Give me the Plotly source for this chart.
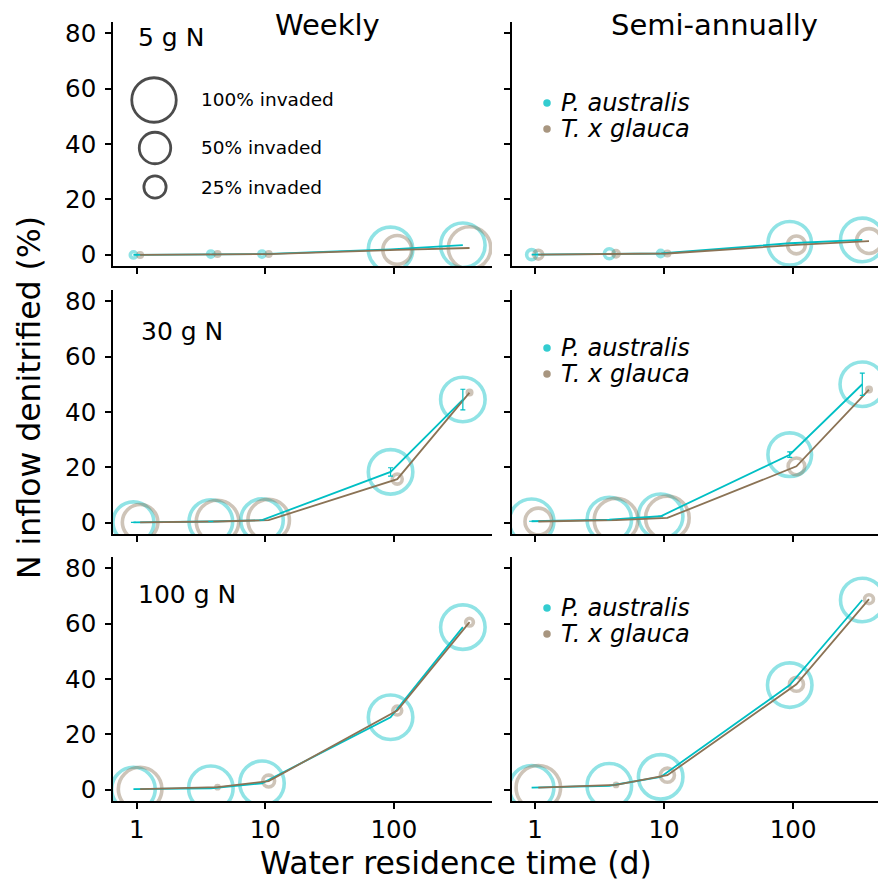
import plotly.graph_objects as go
import numpy as np

W, H = 886, 887
OFF = 8  # page body margin of the browser; figure is shrunk and shifted to compensate
FW, FH = W - OFF, H - OFF

# ---------------- data ----------------
residence_days = [1, 4, 10, 100, 365]
x_tick_vals = [1, 10, 100]
x_tick_labels = ["1", "10", "100"]
y_tick_vals = [0, 20, 40, 60, 80]
y_tick_labels = ["0", "20", "40", "60", "80"]

loads = ["5 g N", "30 g N", "100 g N"]
regimes = ["Weekly", "Semi-annually"]
species = ["P. australis", "T. x glauca"]

# mean % of N inflow denitrified
pa_weekly_5 = [0.0, 0.3, 0.3, 2.0, 3.5]
tg_weekly_5 = [0.0, 0.3, 0.3, 1.8, 2.5]
pa_semi_5 = [0.1, 0.4, 0.5, 4.2, 5.4]
tg_semi_5 = [0.1, 0.4, 0.5, 3.6, 5.0]
pa_weekly_30 = [0.2, 0.5, 1.0, 18.4, 44.5]
tg_weekly_30 = [0.2, 0.5, 1.0, 15.8, 47.0]
pa_semi_30 = [0.6, 1.2, 2.4, 24.6, 50.0]
tg_semi_30 = [0.5, 1.0, 1.8, 20.4, 48.1]
pa_weekly_100 = [0.3, 0.6, 2.4, 26.2, 58.7]
tg_weekly_100 = [0.3, 1.0, 3.2, 28.6, 60.5]
pa_semi_100 = [0.8, 1.5, 4.7, 37.8, 68.5]
tg_semi_100 = [0.8, 1.8, 5.3, 38.1, 68.8]

# standard errors (only visible ones are non-zero)
pa_err_weekly_30 = [0, 0, 0, 1.5, 3.7]
pa_err_semi_30 = [0, 0, 0, 1.0, 4.0]

# % of mesocosms invaded (circle size)
pa_inv_weekly_5 = [2, 2, 2, 100, 100]
tg_inv_weekly_5 = [1, 1, 1, 42, 91]
pa_inv_semi_5 = [5, 5, 2, 96, 96]
tg_inv_semi_5 = [4, 2, 1, 16, 31]
pa_inv_weekly_30 = [85, 96, 91, 100, 100]
tg_inv_weekly_30 = [64, 91, 87, 5, 1]
pa_inv_semi_30 = [100, 100, 100, 96, 100]
tg_inv_semi_30 = [36, 96, 96, 14, 1]
pa_inv_weekly_100 = [96, 100, 100, 100, 100]
tg_inv_weekly_100 = [96, 0.5, 7, 4, 3]
pa_inv_semi_100 = [100, 100, 100, 100, 96]
tg_inv_semi_100 = [100, 0.5, 10, 10, 4]

legend_invaded = [100, 50, 25]
legend_invaded_labels = ["100% invaded", "50% invaded", "25% invaded"]

# ---------------- style ----------------
CYAN = "#00BFC4"
BROWN = "#8B7355"
CYAN_A = "rgba(0,191,196,0.62)"
BROWN_A = "rgba(139,115,85,0.6)"
FONT = "DejaVu Sans"
SIZE_MAX = 44.5
DODGE = 10 ** 0.026


def msize(p):
    return [SIZE_MAX * np.sqrt(v / 100.0) for v in p]


def px(x):
    return (x - OFF) / FW


def py(y):
    return 1 - (y - OFF) / FH


panels = [
    # row, col, pa, tg, pa_inv, tg_inv, pa_err
    (0, 0, pa_weekly_5, tg_weekly_5, pa_inv_weekly_5, tg_inv_weekly_5, None),
    (0, 1, pa_semi_5, tg_semi_5, pa_inv_semi_5, tg_inv_semi_5, None),
    (1, 0, pa_weekly_30, tg_weekly_30, pa_inv_weekly_30, tg_inv_weekly_30, pa_err_weekly_30),
    (1, 1, pa_semi_30, tg_semi_30, pa_inv_semi_30, tg_inv_semi_30, pa_err_semi_30),
    (2, 0, pa_weekly_100, tg_weekly_100, pa_inv_weekly_100, tg_inv_weekly_100, None),
    (2, 1, pa_semi_100, tg_semi_100, pa_inv_semi_100, tg_inv_semi_100, None),
]

x_dom = [[px(113), px(492)], [px(512), 1.0]]
x_rng = [[-0.185, 2.763], [-0.178, 2.72]]
y_dom = [[py(266), py(22)], [py(534), py(290)], [py(801), py(557)]]

fig = go.Figure()
layout = {}

x_pa = [x / DODGE for x in residence_days]
x_tg = [x * DODGE for x in residence_days]

for i, (r, c, pa, tg, pa_inv, tg_inv, pa_err) in enumerate(panels):
    n = i + 1
    xa = "x" if n == 1 else f"x{n}"
    ya = "y" if n == 1 else f"y{n}"
    xk = "xaxis" if n == 1 else f"xaxis{n}"
    yk = "yaxis" if n == 1 else f"yaxis{n}"
    # circles
    fig.add_trace(go.Scatter(x=x_pa, y=pa, mode="markers", xaxis=xa, yaxis=ya,
                             marker=dict(symbol="circle-open", size=msize(pa_inv), color=CYAN_A,
                                         line=dict(width=3.6, color=CYAN_A)),
                             hoverinfo="skip", showlegend=False))
    fig.add_trace(go.Scatter(x=x_tg, y=tg, mode="markers", xaxis=xa, yaxis=ya,
                             marker=dict(symbol="circle-open", size=msize(tg_inv), color=BROWN_A,
                                         line=dict(width=3.6, color=BROWN_A)),
                             hoverinfo="skip", showlegend=False))
    # lines
    fig.add_trace(go.Scatter(x=x_pa, y=pa, mode="lines", xaxis=xa, yaxis=ya,
                             line=dict(color=CYAN, width=1.8), hoverinfo="skip", showlegend=False))
    fig.add_trace(go.Scatter(x=x_tg, y=tg, mode="lines", xaxis=xa, yaxis=ya,
                             line=dict(color=BROWN, width=1.8), hoverinfo="skip", showlegend=False))
    if pa_err is not None:
        fig.add_trace(go.Scatter(x=x_pa, y=pa, mode="markers", xaxis=xa, yaxis=ya,
                                 marker=dict(size=1, color="rgba(0,0,0,0)"),
                                 error_y=dict(type="data", array=pa_err, visible=True,
                                              color=CYAN, thickness=1.2, width=2.5),
                                 hoverinfo="skip", showlegend=False))

    layout[xk] = dict(type="log", domain=x_dom[c], range=x_rng[c], anchor=ya,
                      tickvals=x_tick_vals, ticktext=x_tick_labels,
                      showticklabels=(r == 2), ticks="outside", ticklen=6, tickwidth=1.7,
                      tickcolor="black", showline=True, linecolor="black", linewidth=1.7,
                      showgrid=False, zeroline=False, automargin=False,
                      tickfont=dict(family=FONT, size=24.5, color="black"))
    layout[yk] = dict(domain=y_dom[r], range=[-4, 84], anchor=xa,
                      tickvals=y_tick_vals, ticktext=y_tick_labels,
                      showticklabels=(c == 0), ticks="outside", ticklen=6, tickwidth=1.7,
                      tickcolor="black", showline=True, linecolor="black", linewidth=1.7,
                      showgrid=False, zeroline=False, automargin=False,
                      ticklabelstandoff=4,
                      tickfont=dict(family=FONT, size=24.5, color="black"))

# overlay pixel-space axes for the keys
layout["xaxis7"] = dict(domain=[0, 1], range=[OFF, W], visible=False, anchor="y7", fixedrange=True)
layout["yaxis7"] = dict(domain=[0, 1], range=[H, OFF], visible=False, anchor="x7", fixedrange=True)

# size key
fig.add_trace(go.Scatter(x=[154, 155, 155], y=[100, 148, 187], mode="markers", xaxis="x7", yaxis="y7",
                         marker=dict(symbol="circle-open", size=msize(legend_invaded), color="black",
                                     line=dict(width=2.8, color="black")),
                         cliponaxis=False, hoverinfo="skip", showlegend=False))

annotations = []
for lbl, yy in zip(legend_invaded_labels, [100, 147, 187]):
    annotations.append(dict(text=lbl, x=px(199), y=py(yy), xref="paper", yref="paper",
                            xanchor="left", yanchor="middle", showarrow=False,
                            font=dict(family=FONT, size=18.5, color="black")))

# species keys in right column
species_key_y = [(103, 129), (348, 374), (608, 634)]
for (y1, y2) in species_key_y:
    fig.add_trace(go.Scatter(x=[547, 547], y=[y1, y2], mode="markers", xaxis="x7", yaxis="y7",
                             marker=dict(size=7.5, color=["rgba(0,191,196,0.8)", "rgba(139,115,85,0.75)"]),
                             cliponaxis=False, hoverinfo="skip", showlegend=False))
    for sp, yy in zip(species, [y1, y2]):
        annotations.append(dict(text=f"<i>{sp}</i>", x=px(559), y=py(yy), xref="paper", yref="paper",
                                xanchor="left", yanchor="middle", showarrow=False,
                                font=dict(family=FONT, size=24, color="black")))

# panel load labels
for lbl, (xx, yy) in zip(loads, [(136, 37), (139, 331), (136, 594)]):
    annotations.append(dict(text=lbl, x=px(xx), y=py(yy), xref="paper", yref="paper",
                            xanchor="left", yanchor="middle", showarrow=False,
                            font=dict(family=FONT, size=25, color="black")))

# column titles
for lbl, xx in zip(regimes, [327, 714]):
    annotations.append(dict(text=lbl, x=px(xx), y=py(25), xref="paper", yref="paper",
                            xanchor="center", yanchor="middle", showarrow=False,
                            font=dict(family=FONT, size=29, color="black")))

# axis titles
annotations.append(dict(text="Water residence time (d)", x=px(456), y=py(863), xref="paper", yref="paper",
                        xanchor="center", yanchor="middle", showarrow=False,
                        font=dict(family=FONT, size=31.5, color="black")))
annotations.append(dict(text="N inflow denitrified (%)", x=px(29), y=py(398), xref="paper", yref="paper",
                        xanchor="center", yanchor="middle", showarrow=False, textangle=-90,
                        font=dict(family=FONT, size=31.5, color="black")))

fig.update_layout(width=FW, height=FH, margin=dict(l=0, r=0, t=0, b=0),
                  paper_bgcolor="white", plot_bgcolor="rgba(0,0,0,0)",
                  showlegend=False, annotations=annotations, **layout)

fig.write_html("out.html")
